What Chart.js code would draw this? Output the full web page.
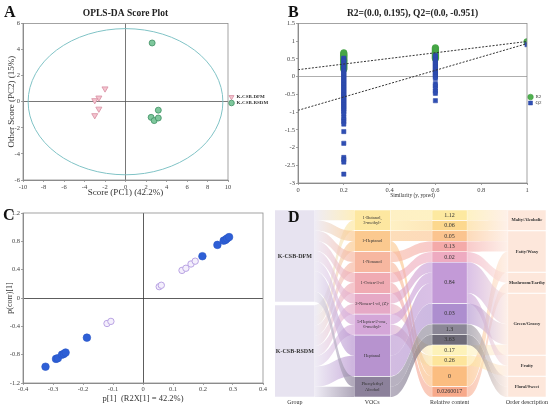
<!DOCTYPE html>
<html>
<head>
<meta charset="utf-8">
<script src="https://cdn.jsdelivr.net/npm/chart.js@4.4.0/dist/chart.umd.min.js"></script>
<style>
  body { margin: 0; width: 550px; height: 412px; overflow: hidden; position: relative; background: #fff; }
  .panel { position: absolute; }
  .tag { position: absolute; font: bold 16px "Liberation Serif", serif; color: #111; line-height: 1; }
</style>
</head>
<body>
<div class="panel" style="left:0;top:0;width:275px;height:200px"><canvas id="chartA"></canvas></div>
<div class="panel" style="left:275px;top:0;width:275px;height:200px"><canvas id="chartB"></canvas></div>
<div class="panel" style="left:0;top:200px;width:275px;height:212px"><canvas id="chartC"></canvas></div>
<div class="panel" style="left:275px;top:200px;width:275px;height:212px"><canvas id="chartD"></canvas></div>
<div class="tag" style="left:4px;top:4px">A</div>
<div class="tag" style="left:288px;top:4px">B</div>
<div class="tag" style="left:3px;top:207px">C</div>
<div class="tag" style="left:288px;top:209px">D</div>
<script>
// ---- data: A (OPLS-DA scores)
const dfmX = [-2.0, -2.6, -3.0, -2.6, -3.0];
const dfmY = [1.0, 0.3, 0.1, -0.55, -1.05];
const rsdmX = [2.6, 3.2, 2.5, 2.8, 3.2];
const rsdmY = [4.5, -0.65, -1.2, -1.45, -1.25];
const ellipseRx = 9.5;
const ellipseRy = 5.6;

// ---- data: B (permutation test)
const r2At02 = [0.67, 0.64, 0.61, 0.59, 0.56, 0.53, 0.5, 0.47, 0.45, 0.42, 0.39, 0.36, 0.33, 0.3, 0.27, 0.24, 0.21];
const q2At02 = [0.52, 0.48, 0.45, 0.41, 0.37, 0.33, 0.29, 0.25, 0.21, 0.17, 0.13, 0.09, 0.05, 0.01, -0.03, -0.07,
  -0.11, -0.15, -0.19, -0.23, -0.27, -0.31, -0.35, -0.39, -0.43, -0.47, -0.51, -0.55, -0.59, -0.63, -0.67,
  -0.71, -0.75, -0.79, -0.83, -0.87, -0.91, -0.95, -1.0, -1.06, -1.15, -1.21, -1.27, -1.34, -1.55, -1.88,
  -2.28, -2.34, -2.41, -2.75];
const r2At06 = [0.81, 0.78, 0.75, 0.72, 0.69, 0.66, 0.63, 0.6, 0.57, 0.54, 0.51];
const q2At06 = [0.6, 0.56, 0.52, 0.48, 0.44, 0.4, 0.36, 0.32, 0.28, 0.24, 0.2, 0.16, 0.12, 0.08, 0.04, 0.0,
  -0.05, -0.2, -0.26, -0.33, -0.41, -0.47, -0.68];
const r2At1 = [0.98];
const q2At1 = [0.9];
const r2Line = [[0, 0.195], [1, 0.99]];
const q2Line = [[0, -0.951], [1, 0.93]];

// ---- data: C (S-plot)
const blueP = [-0.325, -0.29, -0.284, -0.27, -0.264, -0.258, -0.187, 0.198, 0.248, 0.269, 0.275, 0.28, 0.287];
const blueCorr = [-0.97, -0.86, -0.85, -0.8, -0.79, -0.77, -0.56, 0.59, 0.75, 0.81, 0.82, 0.84, 0.86];
const purpleP = [-0.12, -0.107, 0.054, 0.061, 0.13, 0.143, 0.16, 0.174];
const purpleCorr = [-0.36, -0.33, 0.16, 0.18, 0.39, 0.42, 0.48, 0.52];

// ---- data: D (sankey)
const columnLabels = ['Group', 'VOCs', 'Relative content', 'Order description'];
const groupNodes = ['K-CSB-DFM', 'K-CSB-RSDM'];
const vocNodes = ['1-Butanol,\n3-methyl-', '1-Heptanol', '1-Nonanol', '1-Octen-3-ol', '2-Nonen-1-ol, (Z)-',
  '5-Hepten-2-one,\n6-methyl-', 'Heptanal', 'Phenylethyl\nAlcohol'];
const contentNodes = ['1.12', '0.06', '0.05', '0.13', '0.02', '0.84', '0.03', '1.3', '3.63', '0.17', '0.26', '0', '0.0260017'];
const orderNodes = ['Malty/Alcoholic', 'Fatty/Waxy', 'Mushroom/Earthy', 'Green/Grassy', 'Fruity', 'Floral/Sweet'];
// one row per path: group, voc, content, order (each row = one unit)
const flowRows = [
  [0, 0, 0, 0], [1, 0, 1, 0],
  [0, 1, 2, 1], [1, 1, 11, 1],
  [0, 2, 3, 1], [1, 2, 11, 1],
  [0, 3, 4, 2], [1, 3, 12, 2],
  [0, 4, 5, 3], [1, 4, 9, 3],
  [0, 5, 5, 4], [1, 5, 10, 4],
  [0, 6, 5, 3], [0, 6, 5, 3], [1, 6, 6, 3], [1, 6, 6, 3],
  [0, 7, 7, 5], [1, 7, 8, 5]
];

// ---- styles
const serif = '"Liberation Serif", "Times New Roman", serif';
Chart.defaults.font.family = serif;
Chart.defaults.color = '#444';
Chart.defaults.animation = false;
Chart.defaults.plugins.tooltip.enabled = false;

const groupColors = ['#e7e3f0', '#e7e3f0'];
const vocColors = ['#fde7a0', '#fbc98f', '#f7b7a0', '#f0abb3', '#e6a9c6', '#d4a6d8', '#b793cf', '#8c819b'];
const contentColors = ['#fde9a0', '#fcd88e', '#fbc48f', '#f4aaa9', '#eeabc1', '#c39ad7', '#ad8ecf', '#8b8796',
  '#6e6b78', '#fdf2b9', '#fde59b', '#fbbd80', '#f7a98a'];
const orderColors = ['#fde7db', '#fde7db', '#fde7db', '#fde7db', '#fde7db', '#fde7db'];
const nodeColors = [groupColors, vocColors, contentColors, orderColors];
const columnWidths = [40, 36, 35, 38];
const labelFonts = ['bold 6px ' + serif, '4.5px ' + serif, '6px ' + serif, 'bold 4.5px ' + serif];

const plotBox = {
  id: 'plotBox',
  afterDatasetsDraw(chart) {
    const { ctx, chartArea: a } = chart;
    ctx.save();
    ctx.strokeStyle = '#8c8c8c';
    ctx.lineWidth = 0.8;
    ctx.strokeRect(a.left, a.top, a.right - a.left, a.bottom - a.top);
    ctx.restore();
  }
};

const scoreEllipse = {
  id: 'scoreEllipse',
  beforeDatasetsDraw(chart) {
    const { ctx, scales: { x, y } } = chart;
    const cx = x.getPixelForValue(0), cy = y.getPixelForValue(0);
    const rx = x.getPixelForValue(ellipseRx) - cx;
    const ry = cy - y.getPixelForValue(ellipseRy);
    ctx.save();
    ctx.beginPath();
    ctx.ellipse(cx, cy, rx, ry, 0, 0, Math.PI * 2);
    ctx.strokeStyle = '#80c3c6';
    ctx.lineWidth = 1;
    ctx.stroke();
    ctx.restore();
  }
};

function zeroGrid(color) {
  return {
    color: c => (c.tick && c.tick.value === 0) ? color : 'rgba(0,0,0,0)',
    tickColor: '#8c8c8c',
    tickLength: 2,
    lineWidth: 0.8
  };
}
const tickFont = { size: 6.5 };
const plainNum = v => String(+Number(v).toFixed(2));
const toPoints = (xs, ys) => xs.map((x, i) => ({ x, y: ys[i] }));
const atLevel = (lvl, ys) => ys.map(y => ({ x: lvl, y }));

// ---- A
new Chart(document.getElementById('chartA'), {
  type: 'scatter',
  data: {
    datasets: [
      { label: 'K-CSB-DFM', data: toPoints(dfmX, dfmY), pointStyle: 'triangle', pointRotation: 180, pointRadius: 3.5,
        pointBackgroundColor: '#f4c4cf', pointBorderColor: '#d88ea2', backgroundColor: '#f4c4cf', borderColor: '#d88ea2', pointBorderWidth: 0.8 },
      { label: 'K-CSB-RSDM', data: toPoints(rsdmX, rsdmY), pointStyle: 'circle', pointRadius: 3,
        pointBackgroundColor: '#7ec79c', pointBorderColor: '#3f8f63', backgroundColor: '#7ec79c', borderColor: '#3f8f63', pointBorderWidth: 0.8 }
    ]
  },
  options: {
    responsive: true, maintainAspectRatio: false,
    plugins: {
      title: { display: true, fullSize: false, text: 'OPLS-DA Score Plot', color: '#222', font: { size: 9.5, weight: 'bold' }, padding: { top: 8, bottom: 4 } },
      legend: { position: 'right', maxWidth: 47, labels: { usePointStyle: true, boxWidth: 5, boxHeight: 4, padding: 1, color: '#333', font: { size: 5, weight: 'bold' } } }
    },
    scales: {
      x: { type: 'linear', min: -10, max: 10, ticks: { stepSize: 2, font: tickFont, padding: 1, callback: plainNum }, grid: zeroGrid('#555'),
        border: { color: '#8c8c8c' },
        title: { display: true, text: 'Score (PC1) (42.2%)', color: '#333', font: { size: 9 }, padding: { top: 0, bottom: 2 } },
        afterFit: s => { s.height = 20; } },
      y: { min: -6, max: 6, ticks: { stepSize: 2, font: tickFont, padding: 1, callback: plainNum }, grid: zeroGrid('#555'),
        border: { color: '#8c8c8c' },
        title: { display: true, text: 'Other Score (PC2) (15%)', color: '#333', font: { size: 9 }, padding: { top: 6, bottom: 0 } },
        afterFit: s => { s.width = 23; } }
    }
  },
  plugins: [plotBox, scoreEllipse]
});

// ---- B
new Chart(document.getElementById('chartB'), {
  type: 'scatter',
  data: {
    datasets: [
      { type: 'line', label: 'r2fit', data: r2Line.map(p => ({ x: p[0], y: p[1] })), borderColor: '#333', borderWidth: 1,
        borderDash: [2, 1.5], pointRadius: 0, fill: false },
      { type: 'line', label: 'q2fit', data: q2Line.map(p => ({ x: p[0], y: p[1] })), borderColor: '#333', borderWidth: 1,
        borderDash: [2, 1.5], pointRadius: 0, fill: false },
      { label: 'Q2', data: [...atLevel(0.2, q2At02), ...atLevel(0.6, q2At06), ...atLevel(1, q2At1)], pointStyle: 'rect', pointRadius: 3,
        pointBackgroundColor: '#2f4fb4', pointBorderColor: '#2a45a2', backgroundColor: '#2f4fb4', borderColor: '#2a45a2', pointBorderWidth: 0.5 },
      { label: 'R2', data: [...atLevel(0.2, r2At02), ...atLevel(0.6, r2At06), ...atLevel(1, r2At1)], pointStyle: 'circle', pointRadius: 3.3,
        pointBackgroundColor: '#4fb04f', pointBorderColor: '#3a983a', backgroundColor: '#4fb04f', borderColor: '#3a983a', pointBorderWidth: 0.5 }
    ]
  },
  options: {
    responsive: true, maintainAspectRatio: false,
    plugins: {
      title: { display: true, fullSize: false, text: 'R2=(0.0, 0.195), Q2=(0.0, -0.951)', color: '#222', font: { size: 9.5, weight: 'bold' }, padding: { top: 8, bottom: 4 } },
      legend: { position: 'right', reverse: true, maxWidth: 23, labels: { usePointStyle: true, boxWidth: 5, boxHeight: 4, padding: 1, color: '#333', font: { size: 5 },
        filter: item => item.text === 'R2' || item.text === 'Q2' } }
    },
    scales: {
      x: { type: 'linear', min: 0, max: 1, ticks: { stepSize: 0.2, font: tickFont, padding: 1, callback: plainNum }, grid: zeroGrid('rgba(0,0,0,0)'),
        border: { color: '#8c8c8c' },
        title: { display: true, text: 'Similarity (y, ypred)', color: '#333', font: { size: 5.5 }, padding: { top: 0, bottom: 1 } },
        afterFit: s => { s.height = 17; } },
      y: { min: -3, max: 1.5, ticks: { stepSize: 0.5, font: tickFont, padding: 1, callback: plainNum }, grid: zeroGrid('#9a9a9a'),
        border: { color: '#8c8c8c' },
        afterFit: s => { s.width = 23; } }
    }
  },
  plugins: [plotBox]
});

// ---- C
new Chart(document.getElementById('chartC'), {
  type: 'scatter',
  data: {
    datasets: [
      { label: 'strong', data: toPoints(blueP, blueCorr), pointRadius: 3.8, pointBackgroundColor: '#2e5fd6', pointBorderColor: '#2955c6', pointBorderWidth: 0.6 },
      { label: 'weak', data: toPoints(purpleP, purpleCorr), pointRadius: 3.2, pointBackgroundColor: '#f4effc', pointBorderColor: '#b9a3e3', pointBorderWidth: 1 }
    ]
  },
  options: {
    responsive: true, maintainAspectRatio: false,
    layout: { padding: { top: 13, right: 12 } },
    plugins: { legend: { display: false } },
    scales: {
      x: { type: 'linear', min: -0.4, max: 0.4, ticks: { stepSize: 0.1, font: tickFont, padding: 0, callback: plainNum }, grid: zeroGrid('#333'),
        border: { color: '#8c8c8c' },
        title: { display: true, text: 'p[1]  (R2X[1] = 42.2%)', color: '#333', font: { size: 8.5 }, padding: { top: 0, bottom: 8 } },
        afterFit: s => { s.height = 29; } },
      y: { min: -1.2, max: 1.2, ticks: { stepSize: 0.4, font: tickFont, padding: 1, callback: plainNum }, grid: zeroGrid('#333'),
        border: { color: '#8c8c8c' },
        title: { display: true, text: 'p(corr)[1]', color: '#333', font: { size: 8 }, padding: { top: 5, bottom: 0 } },
        afterFit: s => { s.width = 23; } }
    }
  },
  plugins: [plotBox]
});

// ---- D: sankey layout from flowRows
const sankeyColumns = [groupNodes, vocNodes, contentNodes, orderNodes];
const sankeyHeight = flowRows.length + 0.3;
const nodeValues = sankeyColumns.map((nodes, c) => nodes.map((_, i) => flowRows.filter(r => r[c] === i).length));
const nodeSpans = nodeValues.map(vals => {
  const total = vals.reduce((a, b) => a + b, 0);
  const gap = vals.length > 1 ? (sankeyHeight - total) / (vals.length - 1) : 0;
  let y = 0;
  return vals.map(v => { const span = [y, y + v]; y += v + gap; return span; });
});
const sankeyLinkList = [];
for (let c = 0; c < 3; c++) {
  const counts = new Map();
  flowRows.forEach(r => {
    const key = r[c] + '|' + r[c + 1];
    counts.set(key, (counts.get(key) || 0) + 1);
  });
  counts.forEach((v, key) => {
    const [s, t] = key.split('|').map(Number);
    sankeyLinkList.push({ col: c, s, t, v });
  });
}
for (let c = 0; c < 4; c++) {
  sankeyColumns[c].forEach((_, i) => {
    let y = nodeSpans[c][i][0];
    sankeyLinkList.filter(l => l.col === c && l.s === i).sort((a, b) => a.t - b.t)
      .forEach(l => { l.sy = y; y += l.v; });
    y = nodeSpans[c][i][0];
    sankeyLinkList.filter(l => l.col === c - 1 && l.t === i).sort((a, b) => a.s - b.s)
      .forEach(l => { l.ty = y; y += l.v; });
  });
}

const sankeyLinks = {
  id: 'sankeyLinks',
  beforeDatasetsDraw(chart) {
    const { ctx, scales: { y } } = chart;
    ctx.save();
    sankeyLinkList.forEach(l => {
      const sEl = chart.getDatasetMeta(l.col).data[l.s];
      const tEl = chart.getDatasetMeta(l.col + 1).data[l.t];
      const x0 = sEl.x + sEl.width / 2, x1 = tEl.x - tEl.width / 2, xm = (x0 + x1) / 2;
      const s0 = y.getPixelForValue(l.sy), s1 = y.getPixelForValue(l.sy + l.v);
      const t0 = y.getPixelForValue(l.ty), t1 = y.getPixelForValue(l.ty + l.v);
      const g = ctx.createLinearGradient(x0, 0, x1, 0);
      g.addColorStop(0, nodeColors[l.col][l.s]);
      g.addColorStop(1, nodeColors[l.col + 1][l.t]);
      ctx.globalAlpha = l.col === 0 ? 0.7 : 0.62;
      ctx.fillStyle = g;
      ctx.beginPath();
      ctx.moveTo(x0, s0);
      ctx.bezierCurveTo(xm, s0, xm, t0, x1, t0);
      ctx.lineTo(x1, t1);
      ctx.bezierCurveTo(xm, t1, xm, s1, x0, s1);
      ctx.closePath();
      ctx.fill();
    });
    ctx.restore();
  }
};

const sankeyLabels = {
  id: 'sankeyLabels',
  afterDatasetsDraw(chart) {
    const { ctx } = chart;
    ctx.save();
    ctx.fillStyle = '#333';
    ctx.textAlign = 'center';
    ctx.textBaseline = 'middle';
    sankeyColumns.forEach((nodes, c) => {
      ctx.font = labelFonts[c];
      const size = parseFloat(labelFonts[c].replace('bold ', ''));
      nodes.forEach((name, i) => {
        const el = chart.getDatasetMeta(c).data[i];
        const lines = name.split('\n');
        const cy = (el.y + el.base) / 2 - (lines.length - 1) * size * 0.6;
        lines.forEach((line, k) => ctx.fillText(line, el.x, cy + k * size * 1.2));
      });
    });
    ctx.restore();
  }
};

new Chart(document.getElementById('chartD'), {
  type: 'bar',
  data: {
    datasets: sankeyColumns.map((nodes, c) => ({
      label: columnLabels[c],
      data: nodes.map((_, i) => ({ x: c, y: nodeSpans[c][i] })),
      backgroundColor: nodeColors[c],
      borderColor: 'rgba(255,255,255,0.95)',
      borderWidth: 0.5,
      borderSkipped: false,
      grouped: false,
      barThickness: columnWidths[c]
    }))
  },
  options: {
    responsive: true, maintainAspectRatio: false,
    layout: { padding: { top: 10 } },
    plugins: { legend: { display: false } },
    scales: {
      x: { type: 'linear', offset: false, min: -0.256, max: 3.27,
        ticks: { stepSize: 1, includeBounds: false, color: '#333', font: { size: 6 }, padding: 2,
          callback: v => columnLabels[v] ?? '' },
        grid: { display: false, drawTicks: false }, border: { display: false },
        afterFit: s => { s.height = 15; } },
      y: { display: false, min: 0, max: sankeyHeight, reverse: true }
    }
  },
  plugins: [sankeyLinks, sankeyLabels]
});
</script>
</body>
</html>
